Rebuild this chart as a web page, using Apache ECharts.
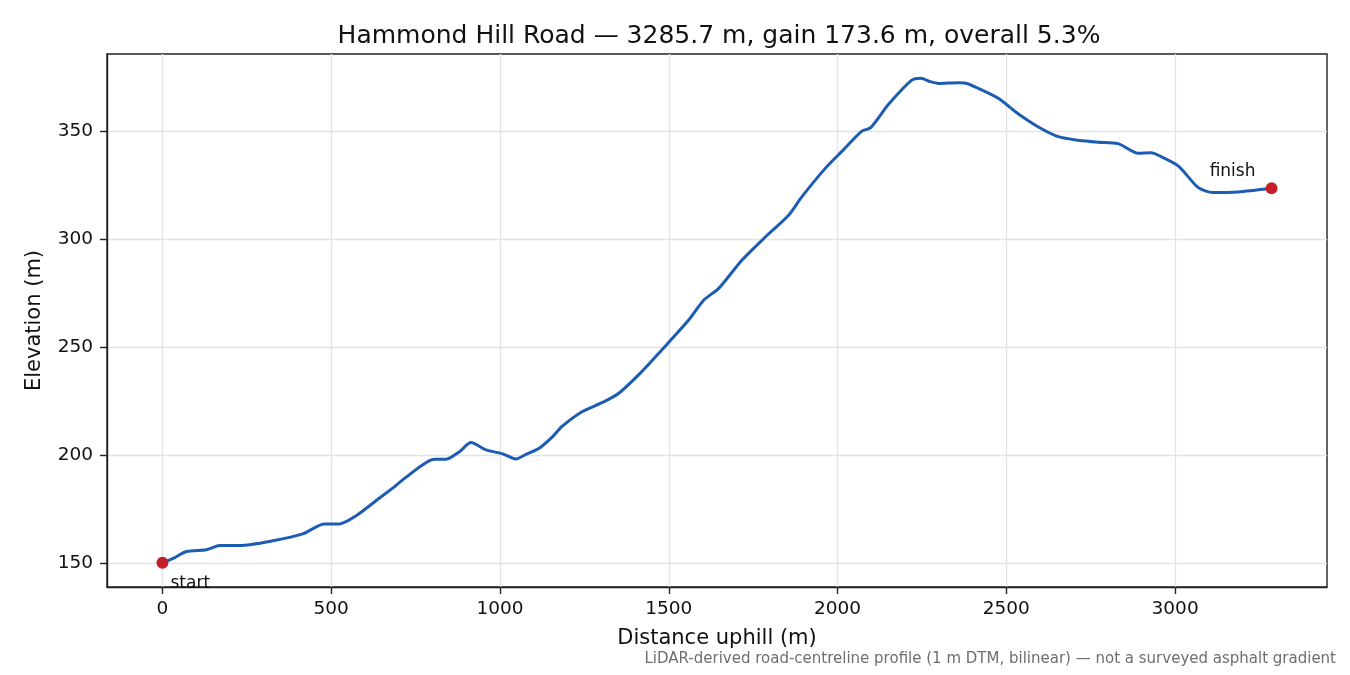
<!DOCTYPE html>
<html>
<head>
<meta charset="utf-8">
<title>Hammond Hill Road</title>
<script src="https://cdn.jsdelivr.net/npm/echarts@6/dist/echarts.min.js"></script>
<style>
  html, body { margin: 0; padding: 0; background: #fff; }
  #chart { width: 1350px; height: 675px; }
</style>
</head>
<body>
<div id="chart"></div>
<script>
// distance along the road (m) and elevation (m)
var distance = [0, 35, 71, 130, 170, 229, 327, 416, 480, 525, 574, 643, 682, 722, 806, 840, 880, 914,
  959, 1008, 1047, 1080, 1116, 1156, 1183, 1243, 1302, 1352, 1420, 1479, 1559, 1604, 1648, 1717,
  1786, 1855, 1894, 1963, 2018, 2071, 2098, 2151, 2219, 2246, 2275, 2299, 2358, 2380, 2417, 2476,
  2536, 2595, 2654, 2713, 2772, 2831, 2891, 2930, 2950, 3009, 3068, 3112, 3186, 3285.7];
var elevation = [150, 152.3, 155.2, 156, 158, 158, 160.2, 163.4, 168, 168, 171.8, 180, 184.6, 189.7, 198, 198, 201.5, 205.7,
  202.3, 200.5, 198.1, 200.5, 203.1, 208.5, 213.1, 220, 224.2, 228.6, 238.6, 248.6, 262.5, 271.8, 277.2, 290.3,
  301, 311.1, 319.6, 332.7, 341.5, 350, 351.7, 362.5, 373.6, 374.6, 373, 372.2, 372.5, 372.3, 369.9, 365.3,
  358, 352, 347.5, 345.8, 344.9, 344.3, 339.8, 340, 338.9, 334, 324, 321.6, 321.9, 323.6];

var xTicks = [0, 500, 1000, 1500, 2000, 2500, 3000];
var yTicks = [150, 200, 250, 300, 350];

var endLabels = ['start', 'finish'];

var profile = distance.map(function (d, i) { return [d, elevation[i]]; });
var last = distance.length - 1;
var ends = [
  { value: [distance[0], elevation[0]], name: endLabels[0] },
  { value: [distance[last], elevation[last]], name: endLabels[1] }
];

// matplotlib-style 5% padding around the data
var xSpan = distance[last] - distance[0];
var yMin = Math.min.apply(null, elevation), yMax = Math.max.apply(null, elevation);
var ySpan = yMax - yMin;

var font = 'DejaVu Sans';
var ink = '#111';

function plain(v) { return String(v); }

var chart = echarts.init(document.getElementById('chart'));

var option = {
  backgroundColor: '#ffffff',
  animation: false,
  textStyle: { fontFamily: font },
  title: {
    text: 'Hammond Hill Road \u2014 3285.7 m, gain 173.6 m, overall 5.3%',
    left: 714,
    top: 19,
    textAlign: 'center',
    textStyle: { fontFamily: font, fontSize: 25, fontWeight: 'normal', color: ink }
  },
  graphic: [{
    type: 'text',
    right: 14,
    top: 652,
    style: {
      text: 'LiDAR-derived road-centreline profile (1 m DTM, bilinear) \u2014 not a surveyed asphalt gradient',
      font: '15px "DejaVu Sans"',
      fill: '#6e6e6e'
    }
  }],
  grid: {
    left: 107, right: 23, top: 54, bottom: 88,
    show: true,
    borderColor: '#222',
    borderWidth: 1.4,
    containLabel: false
  },
  xAxis: {
    type: 'value',
    min: distance[0] - 0.05 * xSpan,
    max: distance[last] + 0.05 * xSpan,
    name: 'Distance uphill (m)',
    nameLocation: 'middle',
    nameGap: 41,
    nameTextStyle: { fontFamily: font, fontSize: 21, color: ink },
    axisLine: { show: true, onZero: false, lineStyle: { color: '#222', width: 1.4 } },
    axisTick: { show: true, length: 7, customValues: xTicks, lineStyle: { color: '#222', width: 1.4 } },
    axisLabel: { customValues: xTicks, formatter: plain, margin: 13, fontFamily: font, fontSize: 18.5, color: ink },
    splitLine: { show: true, lineStyle: { color: '#e4e4e4', width: 1.4 } }
  },
  yAxis: {
    type: 'value',
    min: yMin - 0.05 * ySpan,
    max: yMax + 0.05 * ySpan,
    name: 'Elevation (m)',
    nameLocation: 'middle',
    nameGap: 62,
    nameTextStyle: { fontFamily: font, fontSize: 21, color: ink },
    axisLine: { show: true, onZero: false, lineStyle: { color: '#222', width: 1.4 } },
    axisTick: { show: true, length: 7, customValues: yTicks, lineStyle: { color: '#222', width: 1.4 } },
    axisLabel: { customValues: yTicks, formatter: plain, margin: 14, fontFamily: font, fontSize: 18.5, color: ink },
    splitLine: { show: true, lineStyle: { color: '#e4e4e4', width: 1.4 } }
  },
  series: [
    {
      type: 'line',
      data: profile,
      showSymbol: false,
      smooth: 0.25,
      lineStyle: { color: '#1c5cb3', width: 3 },
      z: 2
    },
    {
      type: 'scatter',
      data: ends,
      symbolSize: 12,
      itemStyle: { color: '#c41e2a', opacity: 1 },
      z: 3,
      label: {
        show: true,
        formatter: '{b}',
        fontFamily: font,
        fontSize: 17,
        color: ink
      }
    }
  ]
};

// per-point label placement, like matplotlib annotations
option.series[1].data[0].label = { position: [14, 18], align: 'left', verticalAlign: 'top' };
option.series[1].data[1].label = { position: 'top', offset: [-39, 3] };

chart.setOption(option);
</script>
</body>
</html>
